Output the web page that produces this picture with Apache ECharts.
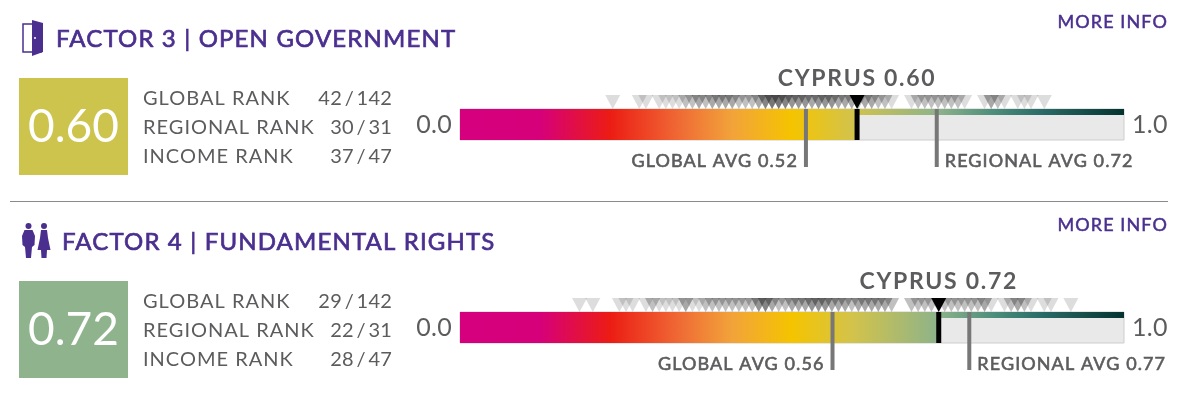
<!DOCTYPE html>
<html><head><meta charset="utf-8">
<style>html,body{margin:0;padding:0;background:#fff}#c{width:1183px;height:393px}</style>
<script src="https://cdn.jsdelivr.net/npm/echarts@6/dist/echarts.min.js"></script>
</head><body><div id="c"></div>
<script>
const country = 'CYPRUS';
const axisEnds = ['0.0','1.0'];
const rankLabels = ['GLOBAL RANK','REGIONAL RANK','INCOME RANK'];

const f3Title = 'FACTOR 3 | OPEN GOVERNMENT';
const f3Score = 0.598;
const f3Global = 0.521;
const f3Regional = 0.718;
const f3Ranks = ['42\u2009/\u2009142','30\u2009/\u200931','37\u2009/\u200947'];
const f3Values = [.23,.27,.28,.30,.31,.32,.33,.34,.35,.36,.37,.38,.39,.40,.41,.42,.43,.44,.45,.46,.47,.48,.49,.50,.51,.52,.53,.54,.55,.56,.57,.58,.59,.60,.61,.62,.63,.64,.65,.68,.69,.70,.71,.72,.73,.74,.75,.76,.79,.80,.81,.82,.84,.85,.86,.88];
const f3Counts = [1,1,1,1,1,1,1,2,2,3,2,3,3,3,3,2,2,2,3,5,6,6,5,4,4,4,3,4,4,4,3,3,3,2,3,3,2,2,1,1,2,2,2,2,2,2,2,1,1,3,2,1,1,1,1,1];

const f4Title = 'FACTOR 4 | FUNDAMENTAL RIGHTS';
const f4Score = 0.721;
const f4Global = 0.561;
const f4Regional = 0.767;
const f4Ranks = ['29\u2009/\u2009142','22\u2009/\u200931','28\u2009/\u200947'];
const f4Values = [.18,.20,.24,.25,.26,.28,.29,.30,.31,.32,.33,.34,.35,.36,.37,.38,.39,.40,.41,.42,.43,.44,.45,.46,.47,.48,.49,.50,.51,.52,.53,.54,.55,.56,.57,.58,.59,.60,.61,.62,.63,.64,.65,.68,.69,.70,.71,.72,.73,.74,.75,.76,.77,.78,.79,.80,.82,.83,.84,.85,.86,.88,.89,.92];
const f4Counts = [1,1,1,1,1,1,2,1,1,1,1,3,1,1,2,2,2,2,2,2,2,2,4,5,3,2,2,3,3,3,4,4,4,3,3,3,2,3,3,3,3,3,2,2,2,2,2,1,2,2,2,2,2,2,3,1,1,2,3,2,1,1,1,1];

const gradStops = [[0,'#d6007f'],[.12,'#d6007a'],[.226,'#ec1c14'],[.33,'#ef6a35'],[.41,'#f2a33a'],[.5,'#f5c400'],[.59,'#d3c34a'],[.72,'#8db38a'],[.8,'#4f8f7c'],[.87,'#2c6e6a'],[1,'#04332f']];

const PURPLE='#4a2f8f', GREY='#5c5c5e', FONT='Lato, sans-serif';
const X0=460, W=664;

// letter-spacing: the canvas draws the library's text tracked like the reference
const tracking=(f,t)=>{const s=parseFloat((f.match(/([\d.]+)px/)||[])[1]);
  if(String(t).includes('/')&&s===20) return '0.2px';
  return ({24:'1.15px',23:'1.7px',20:'1px',18:'1.1px',25:'0.3px',46:'0px'})[s]||'0px';};
['fillText','strokeText'].forEach(k=>{const o=CanvasRenderingContext2D.prototype[k];
  CanvasRenderingContext2D.prototype[k]=function(t,x,y,m){this.letterSpacing=tracking(this.font,t);
    return m===undefined?o.call(this,t,x,y):o.call(this,t,x,y,m);};});

function expand(vals,cnts){const o=[];vals.forEach((v,i)=>{for(let k=0;k<cnts[i];k++)o.push([v,38]);});return o;}
const gradient=(x0,x1)=>({type:'linear',x:x0,y:0,x2:x1,y2:0,global:true,colorStops:gradStops.map(s=>({offset:s[0],color:s[1]}))});

function row(idx,d){
  const mk=(fn,z)=>({type:'custom',xAxisIndex:idx,yAxisIndex:idx,coordinateSystem:'cartesian2d',silent:true,z,data:[[0]],clip:false,renderItem:fn});
  const rect=(api,a,b,y0,y1,style)=>{const p=api.coord([a,y1]),q=api.coord([b,y0]);return{type:'rect',shape:{x:p[0],y:p[1],width:q[0]-p[0],height:q[1]-p[1]},style};};
  const txt=(x,y,t,size,align,weight,fill,sw)=>({type:'text',x,y,style:{text:t,x:0,y:0,font:`${weight} ${size}px ${FONT}`,fill,textAlign:align,textVerticalAlign:'middle',stroke:sw?fill:null,lineWidth:sw||0}});
  return [
    mk((p,api)=>rect(api,0,1,0,31,{fill:'#e9e9e9',stroke:'#cdcdcd',lineWidth:1}),1),
    mk((p,api)=>rect(api,0,d.score,0,31,{fill:gradient(api.coord([0,0])[0],api.coord([1,0])[0])}),2),
    mk((p,api)=>rect(api,d.score,1,25,31,{fill:gradient(api.coord([0,0])[0],api.coord([1,0])[0])}),2),
    {type:'scatter',xAxisIndex:idx,yAxisIndex:idx,silent:true,z:3,symbol:'triangle',symbolRotate:180,symbolSize:[15,14],
     itemStyle:{color:'#333',opacity:.17},data:expand(d.values,d.counts),animation:false},
    {type:'scatter',xAxisIndex:idx,yAxisIndex:idx,silent:true,z:5,symbol:'triangle',symbolRotate:180,symbolSize:[15,14],
     itemStyle:{color:'#000',opacity:1},data:[[d.score,38]],animation:false},
    mk((p,api)=>{const c=api.coord([d.global,-27]),e=api.coord([d.global,31]);return{type:'group',children:[
      {type:'rect',shape:{x:c[0]-2,y:e[1],width:4,height:c[1]-e[1]},style:{fill:'#777'}},
      txt(c[0]-8,c[1]-5.5,'GLOBAL AVG '+d.global.toFixed(2),18,'right','normal',GREY,.6)]};},4),
    mk((p,api)=>{const c=api.coord([d.regional,-27]),e=api.coord([d.regional,31]);return{type:'group',children:[
      {type:'rect',shape:{x:c[0]-2,y:e[1],width:4,height:c[1]-e[1]},style:{fill:'#777'}},
      txt(c[0]+8,c[1]-5.5,'REGIONAL AVG '+d.regional.toFixed(2),18,'left','normal',GREY,.6)]};},4),
    mk((p,api)=>{const c=api.coord([d.score,0]),e=api.coord([d.score,31]),a=api.coord([0,15]),b=api.coord([1,15]);return{type:'group',children:[
      {type:'rect',shape:{x:c[0]-2.5,y:e[1],width:5,height:c[1]-e[1]},style:{fill:'#000'}},
      txt(c[0],e[1]-30,country+' '+d.score.toFixed(2),23,'center','bold',GREY),
      txt(a[0]-8,a[1],axisEnds[0],25,'right','normal',GREY),
      txt(b[0]+8,b[1],axisEnds[1],25,'left','normal',GREY)]};},6)
  ];
}

const chart=echarts.init(document.getElementById('c'),null,{renderer:'canvas'});
const rows=[
 {top:95,score:f3Score,global:f3Global,regional:f3Regional,values:f3Values,counts:f3Counts},
 {top:298,score:f4Score,global:f4Global,regional:f4Regional,values:f4Values,counts:f4Counts}
];
function panel(top,title,score,color,ranks,titleX){
  const els=[
   {type:'rect',shape:{x:19,y:top-17,width:109,height:97},style:{fill:color}},
   {type:'text',style:{x:73.5,y:top+32,text:score.toFixed(2),font:`normal 46px ${FONT}`,fill:'#fff',textAlign:'center',textVerticalAlign:'middle'}},
   {type:'text',style:{x:titleX,y:top-56,text:title,font:`normal 24px ${FONT}`,fill:PURPLE,stroke:PURPLE,lineWidth:.7,textAlign:'left',textVerticalAlign:'middle'}},
   {type:'text',style:{x:1168,y:top-73,text:'MORE INFO',font:`normal 18px ${FONT}`,fill:PURPLE,stroke:PURPLE,lineWidth:.5,textAlign:'right',textVerticalAlign:'middle'}}
  ];
  rankLabels.forEach((l,i)=>{
   els.push({type:'text',style:{x:143,y:top+4+29*i,text:l,font:`normal 20px ${FONT}`,fill:GREY,textAlign:'left',textVerticalAlign:'middle'}});
   els.push({type:'text',style:{x:392,y:top+4+29*i,text:ranks[i],font:`normal 20px ${FONT}`,fill:GREY,textAlign:'right',textVerticalAlign:'middle'}});
  });
  return els;
}
const door=[
 {type:'rect',shape:{x:23,y:24,width:18,height:28},style:{fill:'#fff',stroke:PURPLE,lineWidth:1.5}},
 {type:'polygon',shape:{points:[[32,20],[43,23],[43,52],[32,56]]},style:{fill:PURPLE}},
 {type:'circle',shape:{cx:35,cy:38,r:1},style:{fill:'#fff'}}
];
const person=(cx,dress)=>[
 {type:'circle',shape:{cx,cy:226,r:3},style:{fill:PURPLE}},
 {type:'polygon',shape:{points:dress?[[cx-3,230],[cx+3,230],[cx+4,238],[cx+6.5,250],[cx+3,250],[cx+2.5,258],[cx-2.5,258],[cx-3,250],[cx-6.5,250],[cx-4,238]]:[[cx-4,230],[cx+4,230],[cx+6.5,236],[cx+6,245],[cx+3.5,247],[cx+2.5,258],[cx-2.5,258],[cx-3.5,247],[cx-6,245],[cx-6.5,236]]},style:{fill:PURPLE}}
];
chart.setOption({
 animation:false,backgroundColor:'#fff',
 grid:rows.map(r=>({left:X0,width:W,top:r.top,height:45,containLabel:false})),
 xAxis:rows.map((r,i)=>({type:'value',gridIndex:i,min:0,max:1,show:false})),
 yAxis:rows.map((r,i)=>({type:'value',gridIndex:i,min:0,max:45,show:false})),
 series:rows.flatMap((r,i)=>row(i,r)),
 graphic:{elements:[
  ...panel(95,f3Title,f3Score,'#cdc44e',f3Ranks,56),
  ...panel(298,f4Title,f4Score,'#8fb48d',f4Ranks,62),
  {type:'rect',shape:{x:10,y:201,width:1158,height:1},style:{fill:'#8a8a8a'}},
  ...door,...person(28.5,false),...person(44,true)
 ]}
});
</script></body></html>
